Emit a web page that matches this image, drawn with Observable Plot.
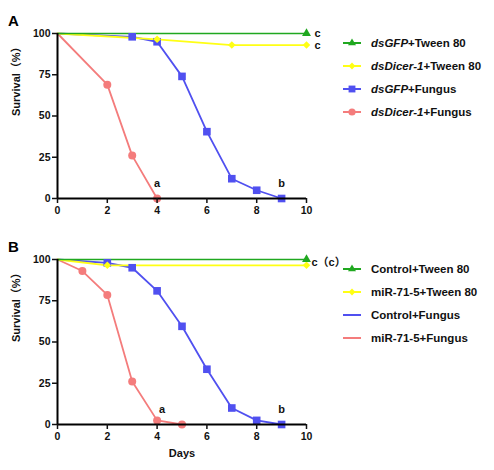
<!DOCTYPE html>
<html>
<head>
<meta charset="utf-8">
<script src="https://cdn.jsdelivr.net/npm/d3@7"></script>
<script src="https://cdn.jsdelivr.net/npm/@observablehq/plot@0.6"></script>
<style>
  body { margin: 0; background: #fff; font-family: "Liberation Sans", Arial, "Noto Sans CJK SC", sans-serif; }
  #fig { position: relative; width: 494px; height: 470px; overflow: hidden; }
  .panel { position: absolute; left: 0; }
  .letter { position: absolute; left: 8px; font-weight: bold; font-size: 15px; }
  .legend { position: absolute; left: 342px; font-weight: bold; font-size: 11.5px; color: #111; }
  .row { position: absolute; left: 0; white-space: nowrap; display: flex; align-items: center; height: 14px; }
  .row svg { margin-right: 9px; }
</style>
</head>
<body>
<div id="fig"></div>
<script>
// panel A: RNAi
var namesA = ["dsGFP+Tween 80", "dsDicer-1+Tween 80", "dsGFP+Fungus", "dsDicer-1+Fungus"];
var legendA = [["dsGFP", "+Tween 80"], ["dsDicer-1", "+Tween 80"], ["dsGFP", "+Fungus"], ["dsDicer-1", "+Fungus"]];
var daysA = [[0, 10], [0, 4, 7, 10], [0, 3, 4, 5, 6, 7, 8, 9], [0, 2, 3, 4]];
var survA = [[100, 100], [100, 96.5, 93, 93], [100, 98, 95, 74, 40.5, 12, 5, 0], [100, 69, 26, 0]];
var lettersA = [{ label: "a", day: 4, surv: 9 }, { label: "b", day: 9, surv: 9 }];
var sideA = [{ label: "c", day: 10, surv: 100 }, { label: "c", day: 10, surv: 93 }];

// panel B: miRNA
var namesB = ["Control+Tween 80", "miR-71-5+Tween 80", "Control+Fungus", "miR-71-5+Fungus"];
var legendB = [["", "Control+Tween 80"], ["", "miR-71-5+Tween 80"], ["", "Control+Fungus"], ["", "miR-71-5+Fungus"]];
var daysB = [[0, 10], [0, 2, 10], [0, 2, 3, 4, 5, 6, 7, 8, 9], [0, 1, 2, 3, 4, 5]];
var survB = [[100, 100], [100, 96.5, 96.5], [100, 98, 95, 81, 59.5, 33.5, 10, 2.5, 0], [100, 93, 78.5, 26, 2.5, 0]];
var lettersB = [{ label: "a", day: 4.2, surv: 9 }, { label: "b", day: 9, surv: 9 }];
var sideB = [{ label: "c（c）", day: 10, surv: 98.5 }];

var colors = ["#20a820", "#ffff14", "#5050f0", "#f47c7c"];
var symbols = ["triangle", "diamond2", "square", "circle"];
var symbolSize = [3.3, 3.4, 4.3, 4];
var lineWidth = [1.4, 1.8, 1.8, 1.8];
var legendSymbolsA = [true, true, true, true];
var legendSymbolsB = [true, true, false, false];

var xTicks = [0, 2, 4, 6, 8, 10];
var yTicks = [0, 25, 50, 75, 100];

var fig = document.getElementById("fig");

function drawPanel(cfg) {
    var rows = [];
    // red first so green ends up on top
    for (var s = cfg.names.length - 1; s >= 0; s--) {
        cfg.days[s].forEach(function (d, i) {
            rows.push({ name: cfg.names[s], idx: s, day: d, surv: cfg.surv[s][i] });
        });
    }
    var lines = [3, 2, 1, 0].map(function (s) {
        return Plot.line(rows.filter(function (d) { return d.idx === s; }),
            { x: "day", y: "surv", stroke: "name", strokeWidth: lineWidth[s] });
    });
    var marks = lines.concat([
        Plot.dot(rows.filter(function (d) { return d.day > 0; }),
            { x: "day", y: "surv", fill: "name", symbol: "name", r: function (d) { return symbolSize[d.idx]; } }),
        Plot.ruleX([0], { strokeWidth: 2, stroke: "#000" }),
        Plot.ruleY([0], { strokeWidth: 2, stroke: "#000" }),
        Plot.axisX({ ticks: xTicks, tickSize: 5, tickPadding: 3, strokeWidth: 1.5, label: null, fontSize: 10.5 }),
        Plot.axisY({ ticks: yTicks, tickSize: 5, tickPadding: 2, strokeWidth: 1.5, label: null, fontSize: 10.5 }),
        Plot.text(["Survival（%）"], { text: function (d) { return d; }, frameAnchor: "left", rotate: -90, dx: -41, fontSize: 11 }),
        Plot.text(cfg.letters, { x: "day", y: "surv", text: "label", fontSize: 11 }),
        Plot.text(cfg.side, { x: "day", y: "surv", text: "label", dx: cfg.sideDx, textAnchor: "start", fontSize: 11 })
    ]);
    if (cfg.xlabel) {
        marks.push(Plot.text([cfg.xlabel], { text: function (d) { return d; }, frameAnchor: "bottom", dy: 32, fontSize: 11 }));
    }
    var chart = Plot.plot({
        width: 362,
        height: cfg.height,
        marginLeft: 57,
        marginRight: 56,
        marginTop: 33,
        marginBottom: cfg.height - 198,
        style: { fontFamily: "'Liberation Sans', Arial, 'Noto Sans CJK SC', sans-serif", fontWeight: "bold", color: "#111", background: "transparent" },
        x: { domain: [0, 10] },
        y: { domain: [0, 100] },
        r: { type: "identity" },
        color: { domain: cfg.names, range: colors },
        symbol: { domain: cfg.names, range: symbols },
        marks: marks
    });
    var wrap = document.createElement("div");
    wrap.className = "panel";
    wrap.style.top = cfg.top + "px";
    wrap.appendChild(chart);
    fig.appendChild(wrap);

    var letter = document.createElement("div");
    letter.className = "letter";
    letter.style.top = (cfg.top + 12) + "px";
    letter.textContent = cfg.letter;
    fig.appendChild(letter);

    var legend = d3.select(fig).append("div").attr("class", "legend").style("top", (cfg.top + 36) + "px");
    cfg.legend.forEach(function (lab, i) {
        var row = legend.append("div").attr("class", "row").style("top", (i * 23) + "px");
        var svg = row.append("svg").attr("width", 20).attr("height", 12);
        svg.append("line").attr("x1", 1).attr("x2", 19).attr("y1", 6).attr("y2", 6)
            .attr("stroke", colors[i]).attr("stroke-width", 2);
        if (cfg.legendSymbols[i]) {
            var sym = { triangle: d3.symbolTriangle, diamond2: d3.symbolDiamond2, square: d3.symbolSquare, circle: d3.symbolCircle }[symbols[i]];
            var sz = symbolSize[i] * 0.9;
            svg.append("path").attr("transform", "translate(10,6)")
                .attr("d", d3.symbol(sym, Math.PI * sz * sz)()).attr("fill", colors[i]);
        }
        var txt = row.append("span");
        if (lab[0]) txt.append("i").text(lab[0]);
        txt.append("span").text(lab[1]);
    });
}

drawPanel({ top: 0, height: 223, letter: "A", names: namesA, legend: legendA, days: daysA, surv: survA,
    letters: lettersA, side: sideA, sideDx: 8, legendSymbols: legendSymbolsA });
drawPanel({ top: 226, height: 244, letter: "B", names: namesB, legend: legendB, days: daysB, surv: survB,
    letters: lettersB, side: sideB, sideDx: 5, legendSymbols: legendSymbolsB, xlabel: "Days" });
</script>
</body>
</html>
